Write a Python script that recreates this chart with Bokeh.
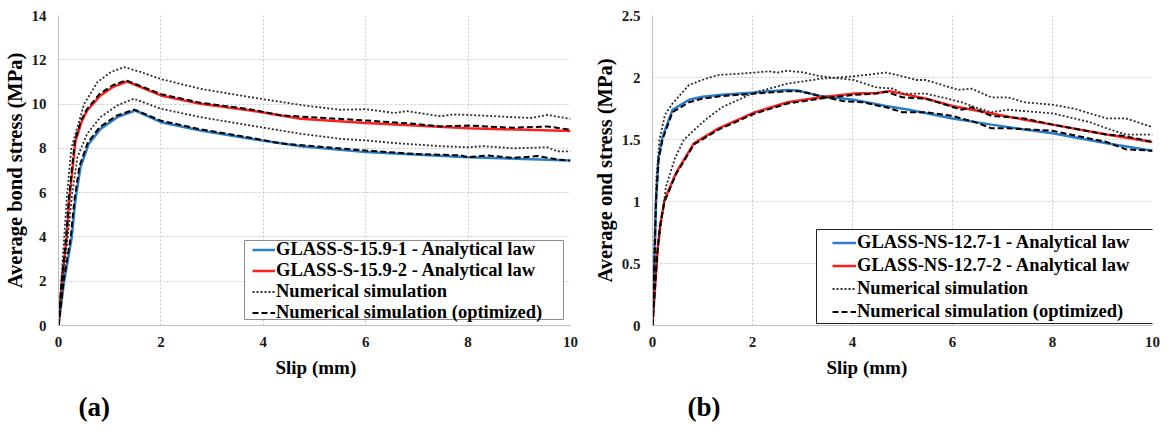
from bokeh.plotting import figure
from bokeh.layouts import row
from bokeh.models import (Range1d, FixedTicker, Legend, LegendItem, Title, NumeralTickFormatter,
                          BoxAnnotation)
from bokeh.embed import file_html
from bokeh.resources import INLINE

FONT = "'Liberation Serif', 'Times New Roman', Times, serif"

# ---------------- (a) GLASS-S-15.9 ----------------
a_blue_s = [0, 0.11, 0.26, 0.33, 0.43, 0.59, 0.82, 1.15, 1.5, 2.0, 2.77, 3.75, 4.73, 6.0, 8.0, 10.0]
a_blue_t = [0, 2.0, 4.0, 5.65, 7.15, 8.2, 8.88, 9.41, 9.71, 9.18, 8.81, 8.43, 8.10, 7.83, 7.60, 7.45]

a_red_s = [0, 0.07, 0.16, 0.21, 0.33, 0.45, 0.56, 0.82, 1.08, 1.34, 2.0, 2.77, 3.75, 4.73, 6.0, 8.0, 10.0]
a_red_t = [0, 2.0, 4.0, 5.65, 8.3, 9.2, 9.71, 10.39, 10.79, 11.02, 10.39, 10.01, 9.71, 9.34, 9.14, 8.91, 8.78]

a_dot1_s = [0, 0.06, 0.12, 0.17, 0.25, 0.5, 0.76, 1.02, 1.28, 1.6, 2.0, 2.77, 3.75, 4.73, 5.5, 6.0, 6.55, 6.81, 7.46, 7.72, 8.0, 9.22, 9.55, 10.0]
a_dot1_t = [0, 2.2, 4.3, 5.98, 7.99, 10.0, 10.99, 11.44, 11.67, 11.45, 11.13, 10.69, 10.31, 9.96, 9.74, 9.77, 9.6, 9.68, 9.45, 9.53, 9.51, 9.37, 9.51, 9.33]

a_dot2_s = [0, 0.08, 0.18, 0.27, 0.37, 0.56, 0.82, 1.15, 1.47, 2.0, 2.77, 3.75, 4.73, 5.5, 6.0, 6.55, 7.46, 8.0, 8.3, 8.89, 9.55, 9.74, 10.0]
a_dot2_t = [0, 2.0, 4.0, 6.0, 7.6, 8.66, 9.41, 9.94, 10.24, 9.79, 9.41, 9.03, 8.66, 8.43, 8.36, 8.24, 8.10, 8.05, 8.10, 8.0, 8.05, 7.87, 7.86]

a_dash1_s = [0, 0.1, 0.24, 0.31, 0.41, 0.57, 0.8, 1.13, 1.48, 2.0, 2.77, 3.75, 4.34, 6.0, 6.94, 7.85, 8.0, 8.37, 8.89, 9.35, 9.8, 10.0]
a_dash1_t = [0, 2.0, 4.0, 5.65, 7.2, 8.25, 8.95, 9.47, 9.75, 9.25, 8.86, 8.48, 8.22, 7.90, 7.75, 7.68, 7.60, 7.68, 7.57, 7.65, 7.48, 7.45]

a_dash2_s = [0, 0.06, 0.15, 0.2, 0.32, 0.44, 0.55, 0.8, 1.06, 1.32, 2.0, 2.77, 3.75, 4.34, 6.0, 6.94, 7.46, 8.0, 8.89, 9.55, 10.0]
a_dash2_t = [0, 2.0, 4.0, 5.65, 8.35, 9.25, 9.75, 10.45, 10.85, 11.07, 10.45, 10.06, 9.76, 9.49, 9.26, 9.11, 8.99, 9.03, 8.93, 8.99, 8.84]

# ---------------- (b) GLASS-NS-12.7 ----------------
b_blue_s = [0, 0.02, 0.04, 0.07, 0.12, 0.2, 0.4, 0.73, 1.0, 1.39, 2.05, 2.7, 2.9, 3.36, 4.02, 4.67, 5.13, 6.0, 6.78, 7.44, 8.0, 9.08, 10.0]
b_blue_t = [0, 0.3, 0.5, 1.0, 1.35, 1.52, 1.74, 1.82, 1.845, 1.86, 1.88, 1.90, 1.895, 1.85, 1.82, 1.77, 1.74, 1.67, 1.62, 1.58, 1.55, 1.47, 1.41]

b_red_s = [0, 0.05, 0.1, 0.15, 0.24, 0.47, 0.83, 1.32, 2.05, 2.7, 3.36, 4.02, 4.48, 4.74, 5.46, 6.0, 6.78, 7.44, 8.0, 9.08, 10.0]
b_red_t = [0, 0.3, 0.6, 0.8, 1.01, 1.23, 1.47, 1.59, 1.72, 1.80, 1.84, 1.87, 1.875, 1.89, 1.83, 1.77, 1.71, 1.66, 1.62, 1.54, 1.48]

b_dot1_s = [0, 0.03, 0.08, 0.14, 0.25, 0.4, 0.73, 1.06, 1.32, 1.72, 2.05, 2.31, 2.5, 2.7, 3.03, 3.36, 4.02, 4.48, 4.81, 5.0, 5.46, 5.79, 6.19, 6.45, 6.78, 7.11, 8.01, 8.75, 9.08, 9.47, 10.0]
b_dot1_t = [0, 0.6, 1.2, 1.5, 1.7, 1.79, 1.94, 1.99, 2.02, 2.03, 2.04, 2.05, 2.04, 2.055, 2.04, 2.01, 1.98, 1.92, 1.91, 1.87, 1.87, 1.84, 1.80, 1.76, 1.72, 1.74, 1.71, 1.64, 1.59, 1.54, 1.54]

b_dot2_s = [0, 0.05, 0.1, 0.27, 0.45, 0.63, 1.06, 1.39, 2.05, 2.7, 3.36, 4.02, 4.48, 4.67, 5.0, 5.27, 5.46, 5.79, 6.12, 6.38, 6.78, 7.11, 7.44, 8.01, 8.42, 9.08, 9.47, 10.0]
b_dot2_t = [0, 0.35, 0.6, 1.12, 1.35, 1.50, 1.66, 1.76, 1.88, 1.95, 1.99, 2.01, 2.03, 2.04, 2.01, 1.98, 1.98, 1.94, 1.90, 1.91, 1.84, 1.84, 1.80, 1.78, 1.75, 1.67, 1.67, 1.60]

b_dash1_s = [0, 0.02, 0.04, 0.07, 0.12, 0.2, 0.4, 0.73, 1.0, 1.39, 2.05, 2.7, 2.95, 3.36, 3.8, 4.2, 4.67, 5.0, 5.46, 6.0, 6.45, 6.78, 7.1, 8.0, 9.08, 9.47, 10.0]
b_dash1_t = [0, 0.3, 0.5, 1.0, 1.33, 1.50, 1.72, 1.80, 1.83, 1.85, 1.87, 1.89, 1.89, 1.85, 1.81, 1.80, 1.76, 1.72, 1.72, 1.69, 1.64, 1.59, 1.59, 1.57, 1.48, 1.42, 1.41]

b_dash2_s = [0, 0.05, 0.1, 0.15, 0.24, 0.47, 0.83, 1.32, 2.05, 2.7, 3.36, 4.02, 4.48, 4.67, 5.0, 5.46, 5.79, 6.18, 6.38, 6.78, 7.44, 8.0, 9.08, 9.41, 10.0]
b_dash2_t = [0, 0.3, 0.6, 0.8, 1.0, 1.22, 1.46, 1.58, 1.71, 1.79, 1.83, 1.86, 1.87, 1.885, 1.84, 1.83, 1.79, 1.74, 1.76, 1.69, 1.67, 1.62, 1.54, 1.53, 1.48]

x_ticks = [0, 2, 4, 6, 8, 10]
a_y_ticks = [0, 2, 4, 6, 8, 10, 12, 14]
b_y_ticks = [0, 0.5, 1, 1.5, 2, 2.5]

a_labels = ["GLASS-S-15.9-1 - Analytical law", "GLASS-S-15.9-2 - Analytical law",
            "Numerical simulation", "Numerical simulation (optimized)"]
b_labels = ["GLASS-NS-12.7-1 - Analytical law", "GLASS-NS-12.7-2 - Analytical law",
            "Numerical simulation", "Numerical simulation (optimized)"]

BLUE = "#2a7dc6"
RED = "#ff1f1f"
DOT = "#2e2e2e"
TXT = "#1a1a1a"


def make_panel(width, left_b, right_b, ymax, yticks, ylabel, xlab_offset, tag, tag_x,
               series, labels, leg_loc, leg_row, glyph_w, box, box_color):
    p = figure(width=width, height=430, output_backend="svg", toolbar_location=None,
               x_range=Range1d(0, 10), y_range=Range1d(0, ymax),
               min_border_left=left_b, min_border_right=right_b,
               min_border_top=15, min_border_bottom=105)
    p.outline_line_color = None
    p.background_fill_color = "white"
    p.border_fill_color = "white"
    for g in (p.xgrid, p.ygrid):
        g.grid_line_color = "#c8c8c8"
        g.grid_line_dash = "2 2"
        g.grid_line_width = 1
    p.xaxis.ticker = FixedTicker(ticks=x_ticks)
    p.yaxis.ticker = FixedTicker(ticks=yticks)
    p.yaxis.formatter = NumeralTickFormatter(format="0.[0]")
    for ax in (p.xaxis, p.yaxis):
        ax.axis_line_color = "#bfbfbf"
        ax.axis_line_width = 1
        ax.major_tick_line_color = None
        ax.minor_tick_line_color = None
        ax.major_tick_out = 0
        ax.major_tick_in = 0
        ax.major_label_text_font = FONT
        ax.major_label_text_font_style = "bold"
        ax.major_label_text_font_size = "15px"
        ax.major_label_text_color = TXT
        ax.axis_label_text_font = FONT
        ax.axis_label_text_font_style = "bold"
        ax.axis_label_text_font_size = "20.5px"
        ax.axis_label_text_color = "black"
    p.xaxis.major_label_standoff = 11
    p.yaxis.major_label_standoff = 12
    p.yaxis.axis_label = ylabel
    p.yaxis.axis_label_standoff = 3

    (bs, bt), (rs, rt), (d1s, d1t), (d2s, d2t), (e1s, e1t), (e2s, e2t) = series
    r_blue = p.line(bs, bt, line_color=BLUE, line_width=2.5)
    r_red = p.line(rs, rt, line_color=RED, line_width=2.5)
    r_d1 = p.line(d1s, d1t, line_color=DOT, line_width=1.8, line_dash="2 2")
    p.line(d2s, d2t, line_color=DOT, line_width=1.8, line_dash="2 2")
    r_e1 = p.line(e1s, e1t, line_color="black", line_width=2, line_dash="6 3")
    p.line(e2s, e2t, line_color="black", line_width=2, line_dash="6 3")

    # legend frame (screen pixels relative to the plot frame)
    bl, br, bb, bt_ = box
    p.add_layout(BoxAnnotation(left=bl, right=br, bottom=bb, top=bt_,
                               left_units="screen", right_units="screen",
                               bottom_units="screen", top_units="screen",
                               fill_color="white", fill_alpha=1,
                               line_color=box_color, line_width=1, line_alpha=1))

    items = [LegendItem(label=labels[0], renderers=[r_blue]),
             LegendItem(label=labels[1], renderers=[r_red]),
             LegendItem(label=labels[2], renderers=[r_d1]),
             LegendItem(label=labels[3], renderers=[r_e1])]
    leg = Legend(items=items, location=leg_loc)
    leg.label_text_font = FONT
    leg.label_text_font_style = "bold"
    leg.label_text_font_size = "18.5px"
    leg.label_text_color = "black"
    leg.glyph_width = glyph_w
    leg.glyph_height = leg_row
    leg.label_height = leg_row
    leg.label_standoff = 1
    leg.spacing = 0
    leg.padding = 0
    leg.margin = 0
    leg.border_line_color = None
    leg.background_fill_alpha = 0
    p.add_layout(leg, "center")

    p.add_layout(Title(text="Slip (mm)", align="left", offset=xlab_offset,
                       text_font=FONT, text_font_style="bold", text_font_size="19px",
                       text_color="black", standoff=10), "below")
    p.add_layout(Title(text=tag, align="left", offset=tag_x,
                       text_font=FONT, text_font_style="bold", text_font_size="27px",
                       text_color="black", standoff=15), "below")
    return p


p1 = make_panel(590, 50, 20, 14, a_y_ticks, "Average bond stress (MPa)", 217, "(a)", 20,
                [(a_blue_s, a_blue_t), (a_red_s, a_red_t), (a_dot1_s, a_dot1_t),
                 (a_dot2_s, a_dot2_t), (a_dash1_s, a_dash1_t), (a_dash2_s, a_dash2_t)],
                a_labels, (194, 2), 21, 23, (186, 505, 6, 85), "#8c8c8c")
p2 = make_panel(570, 55, 8, 2.5, b_y_ticks, "Average ond stress (MPa)", 174, "(b)", 35,
                [(b_blue_s, b_blue_t), (b_red_s, b_red_t), (b_dot1_s, b_dot1_t),
                 (b_dot2_s, b_dot2_t), (b_dash1_s, b_dash1_t), (b_dash2_s, b_dash2_t)],
                b_labels, (180, 2), 23, 24, (164, 501, 2, 96), "#222222")

layout = row(p1, p2)
open("out.html", "w").write(file_html(layout, INLINE))
